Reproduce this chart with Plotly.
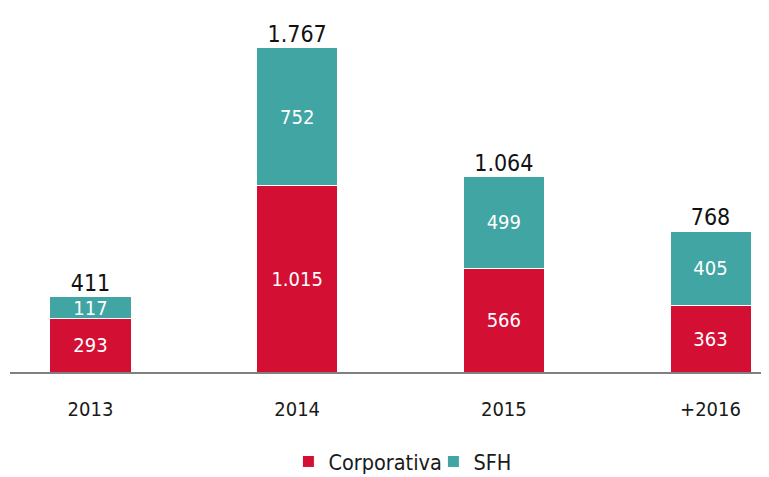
import plotly.graph_objects as go

categories = ["2013", "2014", "2015", "+2016"]
corporativa = [293, 1015, 566, 363]
sfh = [117, 752, 499, 405]
totals = [411, 1767, 1064, 768]

RED = "#D40F34"
TEAL = "#41A5A3"
FONT = "DejaVu Sans Condensed, Liberation Sans, sans-serif"

fig = go.Figure()
fig.add_trace(go.Bar(
    x=categories, y=corporativa, name="Corporativa",
    marker=dict(color=RED, line=dict(color="white", width=1)),
    texttemplate="%{y:,.0f}", textposition="inside", insidetextanchor="middle",
    textangle=0, textfont=dict(color="white", size=20, family=FONT),
    width=0.392, hoverinfo="skip",
))
fig.add_trace(go.Bar(
    x=categories, y=sfh, name="SFH",
    marker=dict(color=TEAL, line=dict(color="white", width=1)),
    texttemplate="%{y:,.0f}", textposition="inside", insidetextanchor="middle",
    textangle=0, textfont=dict(color="white", size=20, family=FONT),
    width=0.392, hoverinfo="skip",
))
fig.add_trace(go.Scatter(
    x=categories, y=totals, mode="text",
    text=[f"{v:,}".replace(",", ".") for v in totals],
    textposition="top center",
    textfont=dict(color="#111111", size=23, family=FONT),
    showlegend=False, hoverinfo="skip", cliponaxis=False,
))

fig.update_layout(
    width=761, height=469,
    margin=dict(l=2, r=0, t=0, b=105, autoexpand=False),
    barmode="stack",
    separators=",.",
    paper_bgcolor="white", plot_bgcolor="white",
    font=dict(family=FONT, size=20, color="#1a1a1a"),
    uniformtext=dict(minsize=20, mode="show"),
    showlegend=True,
    legend=dict(orientation="h", x=0.3668, xanchor="left", y=-0.3022, yanchor="bottom",
                font=dict(size=21.5, family=FONT, color="#1a1a1a"),
                itemwidth=30, entrywidth=100, traceorder="normal"),
    xaxis=dict(range=[-0.3895, 3.283], showline=True, linecolor="#808080", linewidth=2,
               ticks="outside", ticklen=18, tickcolor="rgba(0,0,0,0)",
               tickfont=dict(size=20, family=FONT, color="#1a1a1a"),
               showgrid=False, fixedrange=True),
    yaxis=dict(range=[0, 1985], visible=False, showgrid=False, zeroline=False, fixedrange=True),
)

fig.write_html("out.html")
